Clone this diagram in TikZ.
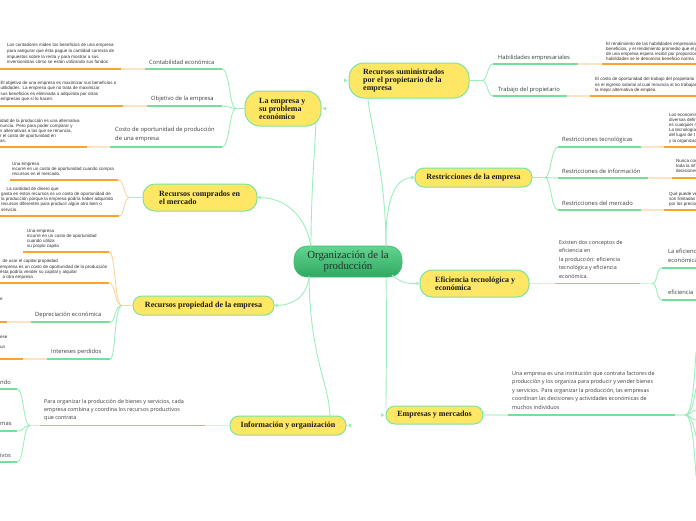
\documentclass[tikz,border=0pt]{standalone}
\usepackage{fontspec}
\setmainfont{Liberation Serif}
\newfontfamily\labf{Open Sans}
\newfontfamily\descf{Liberation Sans}
\usetikzlibrary{arrows.meta,calc}
\definecolor{tyellow}{HTML}{FFE766}
\definecolor{tborder}{HTML}{7DE39E}
\definecolor{lgreen}{HTML}{9CEFBC}
\definecolor{vlgreen}{HTML}{CDF6DC}
\definecolor{ugreen}{HTML}{74E09B}
\definecolor{orng}{HTML}{F7A530}
\definecolor{lorng}{HTML}{FDE3C3}
\definecolor{corng}{HTML}{FCD49C}
\definecolor{cgtop}{HTML}{62D590}
\definecolor{cgbot}{HTML}{30A862}
\definecolor{cgbord}{HTML}{3DBB70}
\definecolor{orgtxt}{HTML}{1E3327}
\definecolor{tdark}{HTML}{1A1A1A}
\definecolor{labc}{HTML}{3C3C3C}
\definecolor{descc}{HTML}{2E2E2E}
\tikzset{
 conn/.style={draw=lgreen, line width=0.9pt},
 vconn/.style={draw=vlgreen, line width=1.2pt},
 oconn/.style={draw=corng, line width=0.9pt},
 uline/.style={draw=ugreen, line width=1.3pt},
 oline/.style={draw=orng, line width=1.3pt},
 loline/.style={draw=lorng, line width=1.3pt},
 topic/.style={draw=tborder, line width=1pt, fill=tyellow, inner sep=0pt},
 ttext/.style={font=\fontsize{8}{8}\selectfont\bfseries, text=tdark, align=left, inner sep=0pt},
 ctext/.style={font=\fontsize{8}{8}\selectfont\bfseries, text=tdark},
 lab/.style={font=\labf\fontsize{5.8}{9}\selectfont, text=labc, inner sep=0pt, anchor=west},
 mlab/.style={font=\labf\fontsize{5.8}{9}\selectfont, text=labc, inner sep=0pt, anchor=north west, align=left},
 desc/.style={font=\descf\fontsize{4.5}{5.3}\selectfont, text=descc, inner sep=0pt, anchor=north west, align=left},
 mdesc/.style={font=\labf\fontsize{5.4}{8.5}\selectfont, text=labc, inner sep=0pt, anchor=north west, align=left},
 tip/.style={-{Triangle[length=3pt,width=4pt]}},
 mk/.style={fill=lgreen},
}
\begin{document}
\begin{tikzpicture}[x=1pt,y=-1pt]
\useasboundingbox (0,0) rectangle (696,520);
\fill[white] (0,0) rectangle (696,520);

% ---------- named points ----------
\coordinate (oT1) at (311,247);
\coordinate (oT2) at (386,247);
\coordinate (oB1) at (309,276);
\coordinate (oB2) at (386,276);
\coordinate (oBR) at (392,275);
\coordinate (lepB) at (316,120);
\coordinate (rsumB) at (368,100);
\coordinate (infoT) at (330,418);
\coordinate (empT) at (386,408);

% ---------- main connectors ----------
\draw[conn] (oT1) .. controls (311,190) and (315,150) .. (lepB);
\draw[conn] (oT2) .. controls (386,180) and (372,130) .. (rsumB);
\draw[conn] (oB1) .. controls (310,360) and (330,385) .. (infoT);
\draw[conn] (oB2) .. controls (387,340) and (386,380) .. (empT);

% ---------- topic boxes ----------
\node[topic, minimum width=76pt, minimum height=35pt, rounded corners=15pt] (lep) at (283,108.5) {};
\node[ttext, anchor=west] (lept) at (259,108.5) {La empresa y\\su problema\\económico};
\node[topic, minimum width=120pt, minimum height=35pt, rounded corners=15pt] (rsum) at (409,80.5) {};
\node[ttext, anchor=west] (rsumt) at (363,80.5) {Recursos suministrados\\por el propietario de la\\empresa};
\node[topic, minimum width=114pt, minimum height=27pt, rounded corners=12pt] (rcomp) at (200,197.5) {};
\node[ttext, anchor=west] (rcompt) at (159,197.5) {Recursos comprados en\\el mercado};
\node[topic, ctext, minimum width=141pt, minimum height=19pt, rounded corners=9pt, inner sep=0pt] (rprop) at (203.5,305.5) {Recursos propiedad de la empresa};
\node[topic, ctext, minimum width=116pt, minimum height=19pt, rounded corners=9pt, inner sep=0pt] (info) at (288,425.5) {Información y organización};
\node[topic, ctext, minimum width=117pt, minimum height=19pt, rounded corners=9pt, inner sep=0pt] (restr) at (473.5,177.5) {Restricciones de la empresa};
\node[topic, minimum width=109pt, minimum height=27pt, rounded corners=12pt] (efic) at (474.5,283.5) {};
\node[ttext, anchor=west] (efict) at (435,283.5) {Eficiencia tecnológica y\\económica};
\node[topic, ctext, minimum width=97pt, minimum height=18pt, rounded corners=9pt, inner sep=0pt] (emp) at (434.5,415) {Empresas y mercados};

% central
\node[draw=cgbord, line width=0.6pt, top color=cgtop, bottom color=cgbot, rounded corners=13pt, minimum width=108pt, minimum height=31pt, inner sep=0pt, align=center, font=\fontsize{10.8}{11}\selectfont, text=orgtxt] (org) at (348,261.5) {Organización de la\\producción};

% connectors with tips
\draw[conn,tip] (oT1) .. controls (306,215) and (285,198) .. (rcomp.east);
\draw[conn,tip] (oT2) .. controls (385,200) and (395,178) .. (restr.west);
\draw[conn,tip] (oB1) .. controls (307,298) and (292,305) .. (rprop.east);
\draw[conn,tip] (oBR) .. controls (402,284) and (410,283.5) .. (efic.west);
\fill[mk] ($(lep.east)+(1,0)$) -- ++(3.5,-2) -- ++(0,4) -- cycle;
\fill[mk] ($(rsum.west)+(-1,0)$) -- ++(-3.5,-2) -- ++(0,4) -- cycle;
\fill[mk] ($(info.east)+(1,0)$) -- ++(3.5,-2) -- ++(0,4) -- cycle;
\fill[mk] ($(emp.west)+(-1,0)$) -- ++(-3.5,-2) -- ++(0,4) -- cycle;

% ---------- La empresa y su problema economico ----------
\coordinate (jl) at (236,108.5);
\draw[conn] (lep.west) -- (jl);
\draw[conn] (jl) .. controls (229,108.5) and (230,69) .. (222,69);
\draw[conn] (jl) .. controls (229,108.5) and (230,106) .. (222,106);
\draw[conn] (jl) .. controls (229,108.5) and (230,147) .. (222,147);
\draw[uline] (222,69) -- (145,69); \draw[loline] (145,69) -- (121,69); \draw[oline] (121,69) -- (0,69);
\draw[uline] (222,106) -- (147,106); \draw[loline] (147,106) -- (123,106); \draw[oline] (123,106) -- (0,106);
\draw[uline] (222,147) -- (110,147); \draw[loline] (110,147) -- (87,147); \draw[oline] (87,147) -- (0,147);
\node[lab] (l1) at (149,62) {Contabilidad económica};
\node[lab] (l2) at (151,98.5) {Objetivo de la empresa};
\node[mlab] (l3) at (115,126.5) {Costo de oportunidad de producción\\de una empresa};
\node[desc, font=\descf\fontsize{4.5}{5.6}\selectfont] (d1) at (7,43.5) {Los contadores miden los beneficios de una empresa\\para asegurar que ésta pague la cantidad correcta de\\impuestos sobre la renta y para mostrar a sus\\inversionistas cómo se están utilizando sus fondos};
\node[desc, font=\descf\fontsize{4.5}{5.4}\selectfont] (d2) at (0.5,81) {El objetivo de una empresa es maximizar sus beneficios o\\utilidades. La empresa que no trata de maximizar\\sus beneficios es eliminada o adquirida por otras\\empresas que sí lo hacen.};
\node[desc, font=\descf\fontsize{4.5}{5.2}\selectfont] (d3) at (0,118.5) {idad de la producción es una alternativa\\nuncia. Pero para poder comparar y\\s alternativas a las que se renuncia,\\r el costo de oportunidad en\\as.};

% ---------- Recursos comprados en el mercado ----------
\coordinate (jc) at (130,197.5);
\draw[oconn] (rcomp.west) -- (jc);
\draw[oconn] (jc) .. controls (123,197.5) and (125,180) .. (118,180);
\draw[oconn] (jc) .. controls (123,197.5) and (125,216) .. (119,216);
\draw[oline] (118,180) -- (10,180);
\draw[oline] (119,216) -- (0,216);
\node[desc, font=\descf\fontsize{4.5}{5.2}\selectfont] (d4) at (12,161.8) {Una empresa\\incurre en un costo de oportunidad cuando compra\\recursos en el mercado.};
\node[desc, font=\descf\fontsize{4.5}{5.15}\selectfont] (d5) at (1,187) {\hspace*{5.5pt}La cantidad de dinero que\\gasta en estos recursos es un costo de oportunidad de\\la producción porque la empresa podría haber adquirido\\recursos diferentes para producir algún otro bien o\\servicio.};

% ---------- Recursos propiedad de la empresa ----------
\coordinate (jp) at (122,305.5);
\draw[oconn] (rprop.west) -- (jp);
\draw[oconn] (jp) .. controls (114,305.5) and (116,252) .. (109,252);
\draw[oconn] (jp) .. controls (114,305.5) and (116,283) .. (109,283);
\draw[conn] (jp) .. controls (114,305.5) and (116,322) .. (110,322);
\draw[conn] (jp) .. controls (114,305.5) and (116,359) .. (110,359);
\draw[oline] (109,252) -- (23,252);
\draw[oline] (109,283) -- (0,283);
\draw[uline] (110,322) -- (31,322); \draw[loline] (31,322) -- (7,322); \draw[oline] (7,322) -- (0,322);
\draw[uline] (110,359) -- (47,359); \draw[loline] (47,359) -- (23,359); \draw[oline] (23,359) -- (0,359);
\node[desc, font=\descf\fontsize{4.5}{5}\selectfont] (d6) at (27,228.7) {Una empresa\\incurre en un costo de oportunidad\\cuando utiliza\\su propio capita};
\node[desc, font=\descf\fontsize{4.5}{5.2}\selectfont] (d7) at (0,259.4) {\hspace*{2.5pt}de usar el capital propiedad\\empresa es un costo de oportunidad de la producción\\ésta podría vender su capital y alquilar\\\hspace*{2.5pt}a otra empresa};
\node[desc] (d8) at (0,297.7) {e};
\node[desc, font=\descf\fontsize{4.5}{10.6}\selectfont] (d9) at (0,335.4) {ese\\un};
\node[lab] (l4) at (35,315) {Depreciación económica};
\node[lab] (l5) at (51,352) {Intereses perdidos};

% ---------- Informacion y organizacion ----------
\coordinate (ji1) at (205,425.5);
\coordinate (ji2) at (40,425.5);
\coordinate (ji) at (30,425.5);
\draw[vconn] (info.west) -- (ji1);
\draw[uline] (ji1) -- (ji2);
\draw[vconn] (ji2) -- (ji);
\draw[conn] (ji) .. controls (23,425.5) and (24,389) .. (17,389);
\draw[conn] (ji) .. controls (23,425.5) and (24,431) .. (17,431);
\draw[conn] (ji) .. controls (23,425.5) and (24,462) .. (17,462);
\draw[uline] (17,389) -- (0,389);
\draw[uline] (17,431) -- (0,431);
\draw[uline] (17,462) -- (0,462);
\node[mdesc, font=\labf\fontsize{5.4}{8}\selectfont] (d10) at (44,399) {Para organizar la producción de bienes y servicios, cada\\empresa combina y coordina los recursos productivos\\que contrata};
\node[lab] (l6) at (0,382) {ndo};
\node[lab] (l7) at (0,423.5) {mas};
\node[lab] (l8) at (0,455) {ivos};

% ---------- Recursos suministrados ----------
\coordinate (js) at (482,80.5);
\draw[conn] (rsum.east) -- (js);
\draw[conn] (js) .. controls (488,80.5) and (487,64) .. (493,64);
\draw[conn] (js) .. controls (488,80.5) and (487,96) .. (493,96);
\draw[uline] (493,64) -- (578,64); \draw[loline] (578,64) -- (602,64); \draw[oline] (602,64) -- (696,64);
\draw[uline] (493,96) -- (567,96); \draw[loline] (567,96) -- (590,96); \draw[oline] (590,96) -- (696,96);
\node[lab] (l9) at (498,58) {Habilidades empresariales};
\node[lab] (l10) at (498,89.5) {Trabajo del propietario};
\node[desc, font=\descf\fontsize{4.5}{5.1}\selectfont] (d11) at (606,41.7) {El rendimiento de las habilidades empresaria\\beneficios, y el rendimiento promedio que el p\\de una empresa espera recibir por proporcion\\habilidades se le denomina beneficio norma};
\node[desc, font=\descf\fontsize{4.5}{5.6}\selectfont] (d12) at (595,77) {El costo de oportunidad del trabajo del propietario\\es el ingreso salarial al cual renuncia al no trabajar\\la mejor alternativa de empleo.};

% ---------- Restricciones ----------
\coordinate (jr) at (545,177.5);
\draw[conn] (restr.east) -- (jr);
\draw[conn] (jr) .. controls (551,177.5) and (551,147) .. (558,147);
\draw[conn] (jr) -- (558,178);
\draw[conn] (jr) .. controls (551,177.5) and (551,210) .. (558,210);
\draw[uline] (558,147) -- (641,147); \draw[loline] (641,147) -- (664,147); \draw[oline] (664,147) -- (696,147);
\draw[uline] (558,178) -- (648,178); \draw[loline] (648,178) -- (672,178); \draw[oline] (672,178) -- (696,178);
\draw[uline] (558,210) -- (641,210); \draw[loline] (641,210) -- (664,210); \draw[oline] (664,210) -- (696,210);
\node[lab] (l11) at (562,139.5) {Restricciones tecnológicas};
\node[lab] (l12) at (562,171) {Restricciones de información};
\node[lab] (l13) at (562,203) {Restricciones del mercado};
\node[desc, font=\descf\fontsize{4.5}{5.2}\selectfont] (d13) at (669,112.7) {Los economis\\diversas defin\\es cualquier m\\La tecnología\\del lugar de t\\y la organizac};
\node[desc, font=\descf\fontsize{4.5}{5}\selectfont] (d14) at (676,159.4) {Nunca con\\toda la inf\\decisiones};
\node[desc, font=\descf\fontsize{4.5}{5.1}\selectfont] (d15) at (669,191.7) {Qué puede ve\\son limitadas\\por los precio};

% ---------- Eficiencia ----------
\coordinate (je1) at (555,283.5);
\coordinate (je2) at (640,283.5);
\coordinate (je) at (652,283.5);
\draw[vconn] (efic.east) -- (je1);
\draw[uline] (je1) -- (je2);
\draw[vconn] (je2) -- (je);
\draw[conn] (je) .. controls (658,283.5) and (656,268) .. (662,268);
\draw[conn] (je) .. controls (658,283.5) and (656,300) .. (662,300);
\draw[uline] (662,268) -- (696,268);
\draw[uline] (662,300) -- (696,300);
\node[mdesc] (d16) at (559,240) {Existen dos conceptos de\\eficiencia en\\la producción: eficiencia\\tecnológica y eficiencia\\económica.};
\node[mlab] (l14) at (668,249) {La eficienc\\económica};
\node[lab] (l15) at (668,292.5) {eficiencia};

% ---------- Empresas y mercados ----------
\coordinate (jm1) at (508,415);
\coordinate (jm2) at (675,415);
\coordinate (jm) at (685,415);
\draw[vconn] (emp.east) -- (jm1);
\draw[uline] (jm1) -- (jm2);
\draw[vconn] (jm2) -- (jm);
\draw[conn] (jm) .. controls (692,415) and (694,385) .. (696,352);
\draw[conn] (jm) .. controls (692,415) and (694,400) .. (696,388);
\draw[conn] (jm) .. controls (691,415) and (692,410) .. (696,410);
\draw[conn] (jm) .. controls (691,415) and (692,420) .. (696,420);
\draw[conn] (jm) .. controls (692,415) and (694,428) .. (696,436);
\draw[conn] (jm) .. controls (692,415) and (694,445) .. (696,476);
\node[mdesc] (d17) at (512,371) {Una empresa es una institución que contrata factores de\\producción y los organiza para producir y vender bienes\\y servicios. Para organizar la producción, las empresas\\coordinan las decisiones y actividades económicas de\\muchos individuos};
\end{tikzpicture}
\end{document}
